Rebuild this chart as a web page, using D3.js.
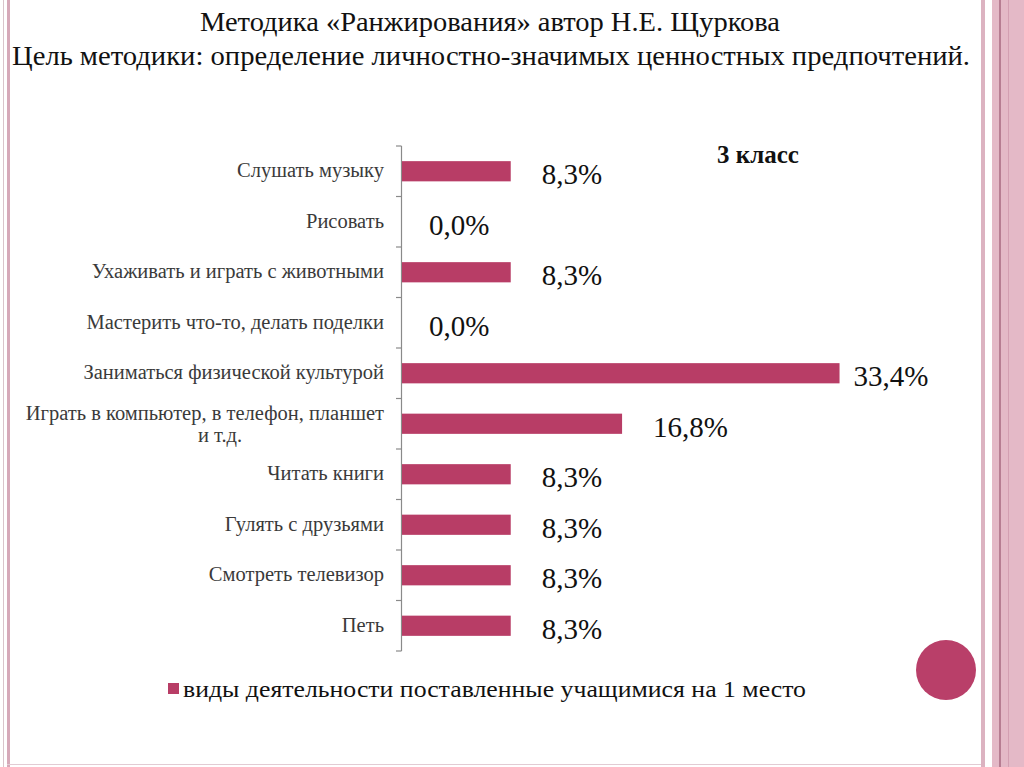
<!DOCTYPE html>
<html><head><meta charset="utf-8">
<script src="https://cdn.jsdelivr.net/npm/d3@7"></script>
<style>body{margin:0;background:#fff}svg{display:block}text{font-family:"Liberation Serif","Times New Roman",serif}</style>
</head><body>
<svg id="c" width="1024" height="767"></svg>
<script>
const titleLines = ["Методика «Ранжирования» автор Н.Е. Щуркова", "Цель методики: определение личностно-значимых ценностных предпочтений."];
const categories = [
  "Слушать музыку",
  "Рисовать",
  "Ухаживать и играть с животными",
  "Мастерить что-то, делать поделки",
  "Заниматься физической культурой",
  "Играть в компьютер, в телефон, планшет|и т.д.",
  "Читать книги",
  "Гулять с друзьями",
  "Смотреть телевизор",
  "Петь"
];
const values = [8.3, 0.0, 8.3, 0.0, 33.4, 16.8, 8.3, 8.3, 8.3, 8.3];
const valueLabels = ["8,3%", "0,0%", "8,3%", "0,0%", "33,4%", "16,8%", "8,3%", "8,3%", "8,3%", "8,3%"];
const seriesName = "виды деятельности поставленные учащимися на 1 место";
const chartLabel = "3 класс";

const svg = d3.select("#c");
const barColor = "#b83d66";

// frame decoration
svg.append("rect").attr("x",3).attr("y",0).attr("width",1).attr("height",767).attr("fill","#d9c4cb");
svg.append("rect").attr("x",7).attr("y",0).attr("width",3).attr("height",767).attr("fill","#d6a9b9");
svg.append("rect").attr("x",7).attr("y",764).attr("width",976).attr("height",1).attr("fill","#e2cbd3");
svg.append("rect").attr("x",981).attr("y",0).attr("width",4).attr("height",767).attr("fill","#dcb3c1");
svg.append("rect").attr("x",992).attr("y",0).attr("width",32).attr("height",767).attr("fill","#e4b9c7");
svg.append("rect").attr("x",999).attr("y",0).attr("width",2).attr("height",767).attr("fill","#b77d92");
svg.append("rect").attr("x",1008).attr("y",0).attr("width",1).attr("height",767).attr("fill","#d39fb2");
svg.append("circle").attr("cx",946).attr("cy",670).attr("r",30).attr("fill","#b93f69");

// titles
svg.append("text").attr("x",490).attr("y",31).attr("text-anchor","middle")
  .attr("font-size",27).attr("fill","#111")
  .attr("textLength",580).attr("lengthAdjust","spacingAndGlyphs").text(titleLines[0]);
svg.append("text").attr("x",491).attr("y",65).attr("text-anchor","middle")
  .attr("font-size",27).attr("fill","#111")
  .attr("textLength",958).attr("lengthAdjust","spacingAndGlyphs").text(titleLines[1]);

// scales
const x = d3.scaleLinear().domain([0, 40]).range([402, 926]);
const y = d3.scaleBand().domain(categories).range([146, 651]).paddingInner(0.6).paddingOuter(0.3);

// axis line + ticks at band boundaries
const g = svg.append("g");
g.append("line").attr("x1",401.5).attr("x2",401.5).attr("y1",146).attr("y2",651).attr("stroke","#8a8a8a").attr("stroke-width",1.2);
const boundaries = d3.range(categories.length + 1).map(i => 146 + i * (651-146)/categories.length);
g.selectAll("line.tick").data(boundaries).join("line").attr("class","tick")
  .attr("x1",396).attr("x2",401.5).attr("y1",d=>d).attr("y2",d=>d).attr("stroke","#8a8a8a").attr("stroke-width",1.2);

// category labels
categories.forEach((c,i)=>{
  const parts = c.split("|");
  const cy = y(c) + y.bandwidth()/2;
  const t = svg.append("text").attr("text-anchor","end")
    .attr("font-size",20.5).attr("fill","#3a3a3a");
  if (parts.length === 1) {
    t.attr("x",384).attr("y",cy+6).text(c);
  } else {
    t.append("tspan").attr("x",384).attr("y",cy-4).text(parts[0]);
    t.append("tspan").attr("x",220).attr("text-anchor","middle").attr("y",cy+18).text(parts[1]);
  }
});

// bars
svg.selectAll("rect.bar").data(values).join("rect").attr("class","bar")
  .attr("x",x(0)).attr("y",(d,i)=>y(categories[i]))
  .attr("width",d=>x(d)-x(0)).attr("height",y.bandwidth()).attr("fill",barColor);

// value labels
svg.selectAll("text.val").data(values).join("text").attr("class","val")
  .attr("x",d=>x(d)+ (d>30?14:(d>0?31:27))).attr("y",(d,i)=>y(categories[i])+y.bandwidth()/2+13)
  .attr("font-size",29).attr("fill","#111")
  .text((d,i)=>valueLabels[i]);

// chart label
svg.append("text").attr("x",758).attr("y",163).attr("text-anchor","middle")
  .attr("font-weight","bold").attr("font-size",25).attr("fill","#111").text(chartLabel);

// legend
svg.append("rect").attr("x",168).attr("y",683).attr("width",11).attr("height",11).attr("fill",barColor);
svg.append("text").attr("x",183).attr("y",697).attr("font-size",23).attr("fill","#111")
  .attr("textLength",623).attr("lengthAdjust","spacingAndGlyphs").text(seriesName);
</script>
</body></html>
